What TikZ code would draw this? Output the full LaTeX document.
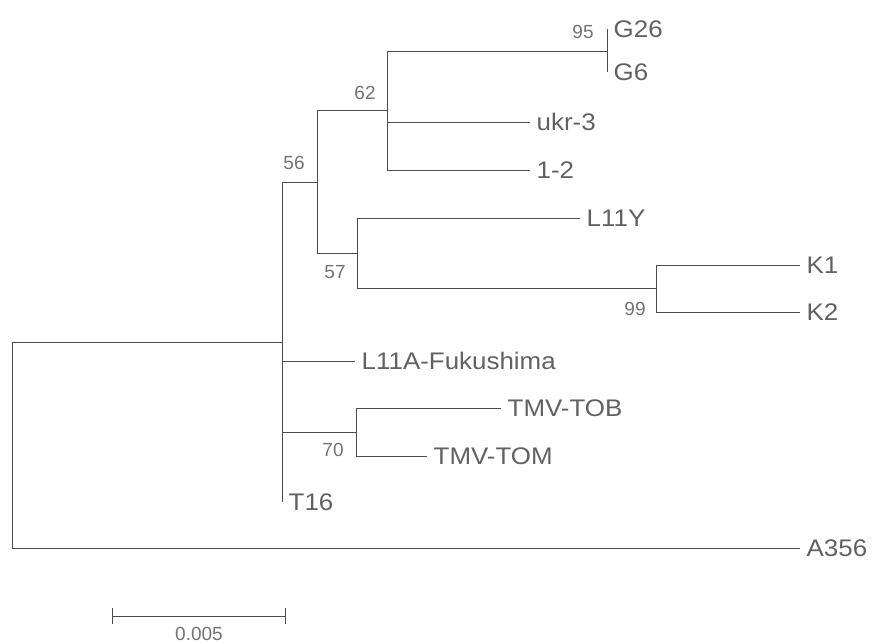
\documentclass[tikz,border=0pt]{standalone}
\usepackage{fontspec}
\setmainfont{Liberation Sans}
\newfontfamily\leaffont[FakeStretch=1.08]{Liberation Sans}
\usepackage{tikz}
\usetikzlibrary{arrows.meta}
\tikzset{
  branch/.style={draw=black!70, line width=0.9pt},
  leaf/.style={
    anchor=west, inner sep=6.5pt,
    font=\leaffont\fontsize{24}{24}\selectfont, text=black!62
  },
  boot/.style={font=\fontsize{19}{19}\selectfont, text=black!55, inner sep=1pt},
  scalebar/.style={branch, {Bar[width=16pt]}-{Bar[width=16pt]}}
}

\begin{document}
\begin{tikzpicture}[x=1pt, y=-1pt]
  \useasboundingbox (0,0) rectangle (873,644);

  % ==== INTERNAL NODES ====
  \coordinate (root) at (12, 342);
  \coordinate (cAll) at (282, 342);
  \coordinate (c56)  at (317, 182);
  \coordinate (c62)  at (387, 110);
  \coordinate (c95)  at (607, 51);
  \coordinate (c57)  at (357, 253);
  \coordinate (c99)  at (656, 288);
  \coordinate (c70)  at (356, 432);

  % ==== LEAVES ====
  \node[leaf] (G26)  at (607, 29)  {G26};
  \node[leaf] (G6)   at (607, 72)  {G6};
  \node[leaf] (ukr3) at (530, 122) {ukr-3};
  \node[leaf] (one2) at (530, 170) {1-2};
  \node[leaf] (L11Y) at (580, 218) {L11Y};
  \node[leaf] (K1)   at (800, 265) {K1};
  \node[leaf] (K2)   at (800, 312) {K2};
  \node[leaf] (L11A) at (355, 361) {L11A-Fukushima};
  \node[leaf] (TOB)  at (501, 408) {TMV-TOB};
  \node[leaf] (TOM)  at (427, 456) {TMV-TOM};
  \node[leaf] (T16)  at (282, 502) {T16};
  \node[leaf] (A356) at (800, 548) {A356};

  % ==== BRANCHES ====
  \draw[branch] (root) -- (cAll);
  \draw[branch] (root) |- (A356.west);
  \draw[branch] (cAll) |- (c56);
  \draw[branch] (cAll) |- (L11A.west);
  \draw[branch] (cAll) |- (c70);
  \draw[branch] (cAll) -- (T16.west);
  \draw[branch] (c56) |- (c62);
  \draw[branch] (c56) |- (c57);
  \draw[branch] (c62) |- (c95);
  \draw[branch] (c62) |- (ukr3.west);
  \draw[branch] (c62) |- (one2.west);
  \draw[branch] (G26.west) -- (G6.west);
  \draw[branch] (c57) |- (L11Y.west);
  \draw[branch] (c57) |- (c99);
  \draw[branch] (c99) |- (K1.west);
  \draw[branch] (c99) |- (K2.west);
  \draw[branch] (c70) |- (TOB.west);
  \draw[branch] (c70) |- (TOM.west);

  % ==== BOOTSTRAP VALUES ====
  \node[boot] (b95) at ([shift={(-24,-19)}]c95) {95};
  \node[boot] (b62) at ([shift={(-22,-17)}]c62) {62};
  \node[boot] (b56) at ([shift={(-23,-19)}]c56) {56};
  \node[boot] (b57) at ([shift={(-22,19)}]c57)  {57};
  \node[boot] (b99) at ([shift={(-21,21)}]c99)  {99};
  \node[boot] (b70) at ([shift={(-23,18)}]c70)  {70};

  % ==== SCALE BAR ====
  \coordinate (sbL) at (112, 616);
  \coordinate (sbR) at (286, 616);
  \draw[scalebar] (sbL) -- (sbR);
  \node[boot] (sbLabel) at (199, 634) {0.005};
\end{tikzpicture}
\end{document}
